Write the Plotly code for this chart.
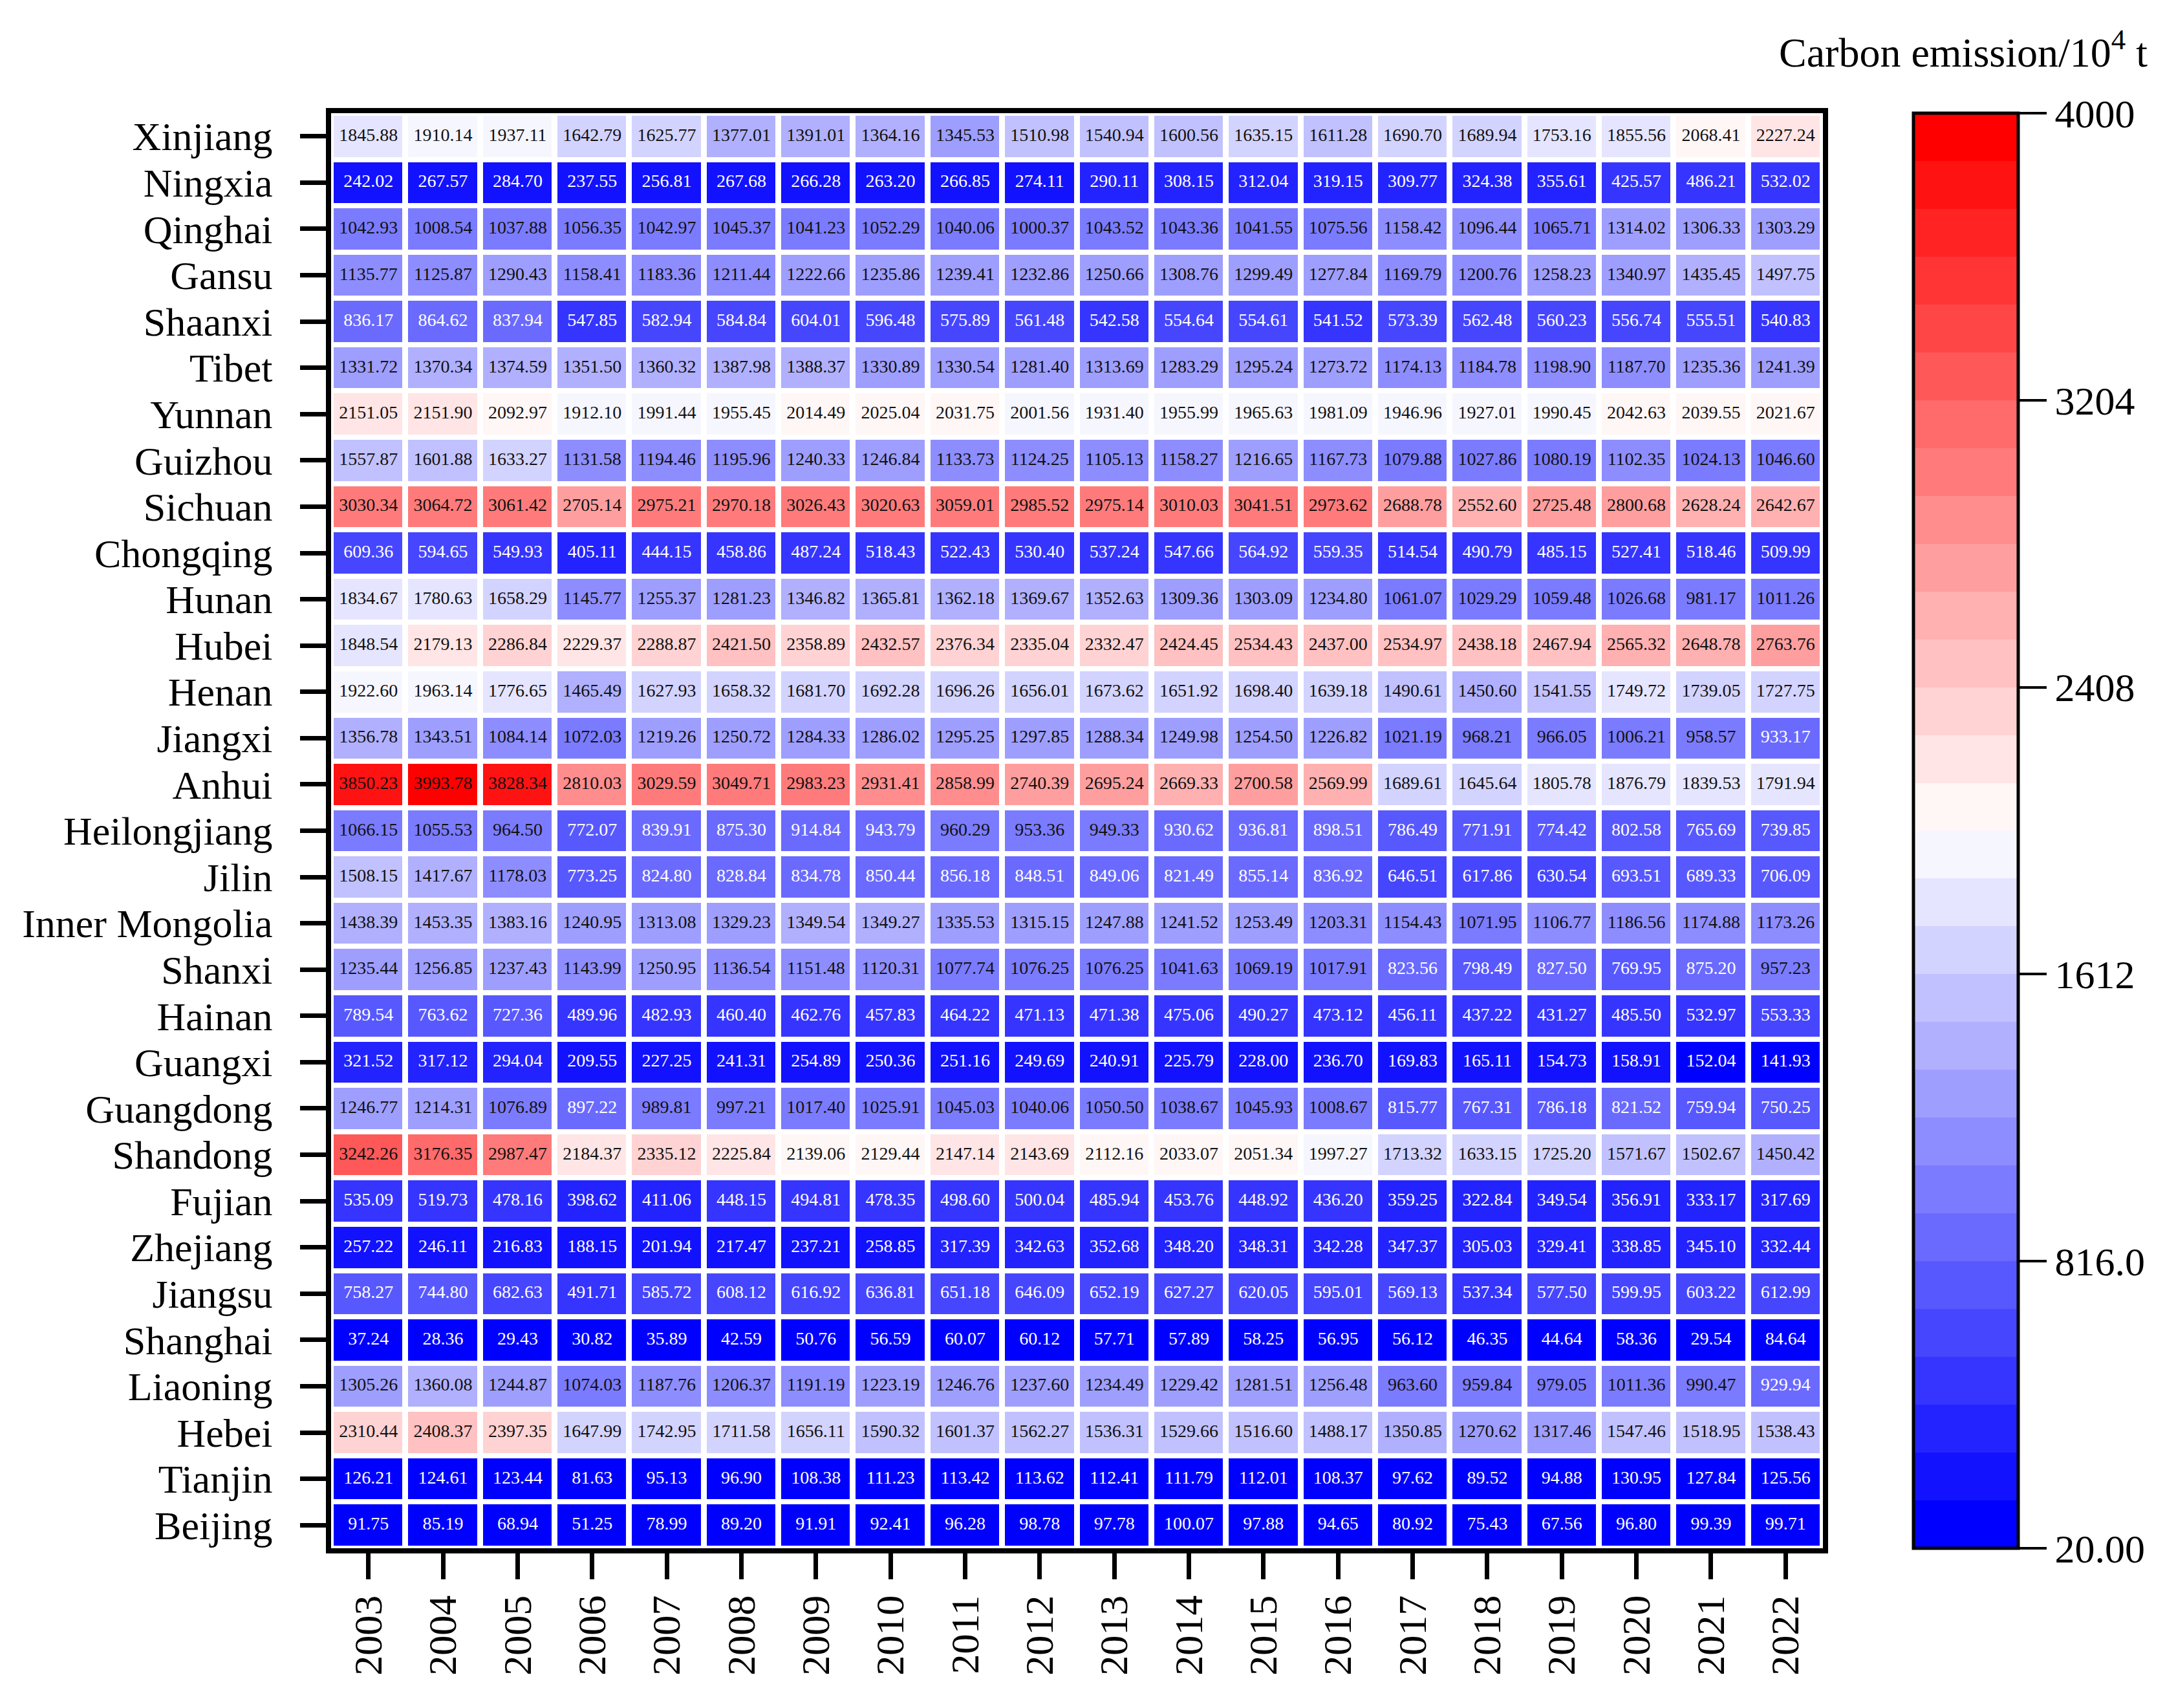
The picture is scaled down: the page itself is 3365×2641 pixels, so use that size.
import plotly.graph_objects as go

# 年份 (x 轴) 与 省份 (y 轴, 从上到下)
years = [str(y) for y in range(2003, 2023)]
provinces = ['Xinjiang', 'Ningxia', 'Qinghai', 'Gansu', 'Shaanxi', 'Tibet', 'Yunnan', 'Guizhou',
             'Sichuan', 'Chongqing', 'Hunan', 'Hubei', 'Henan', 'Jiangxi', 'Anhui', 'Heilongjiang',
             'Jilin', 'Inner Mongolia', 'Shanxi', 'Hainan', 'Guangxi', 'Guangdong', 'Shandong',
             'Fujian', 'Zhejiang', 'Jiangsu', 'Shanghai', 'Liaoning', 'Hebei', 'Tianjin', 'Beijing']

xinjiang = [1845.88, 1910.14, 1937.11, 1642.79, 1625.77, 1377.01, 1391.01, 1364.16, 1345.53, 1510.98,
            1540.94, 1600.56, 1635.15, 1611.28, 1690.70, 1689.94, 1753.16, 1855.56, 2068.41, 2227.24]
ningxia = [242.02, 267.57, 284.70, 237.55, 256.81, 267.68, 266.28, 263.20, 266.85, 274.11,
           290.11, 308.15, 312.04, 319.15, 309.77, 324.38, 355.61, 425.57, 486.21, 532.02]
qinghai = [1042.93, 1008.54, 1037.88, 1056.35, 1042.97, 1045.37, 1041.23, 1052.29, 1040.06, 1000.37,
           1043.52, 1043.36, 1041.55, 1075.56, 1158.42, 1096.44, 1065.71, 1314.02, 1306.33, 1303.29]
gansu = [1135.77, 1125.87, 1290.43, 1158.41, 1183.36, 1211.44, 1222.66, 1235.86, 1239.41, 1232.86,
         1250.66, 1308.76, 1299.49, 1277.84, 1169.79, 1200.76, 1258.23, 1340.97, 1435.45, 1497.75]
shaanxi = [836.17, 864.62, 837.94, 547.85, 582.94, 584.84, 604.01, 596.48, 575.89, 561.48,
           542.58, 554.64, 554.61, 541.52, 573.39, 562.48, 560.23, 556.74, 555.51, 540.83]
tibet = [1331.72, 1370.34, 1374.59, 1351.50, 1360.32, 1387.98, 1388.37, 1330.89, 1330.54, 1281.40,
         1313.69, 1283.29, 1295.24, 1273.72, 1174.13, 1184.78, 1198.90, 1187.70, 1235.36, 1241.39]
yunnan = [2151.05, 2151.90, 2092.97, 1912.10, 1991.44, 1955.45, 2014.49, 2025.04, 2031.75, 2001.56,
          1931.40, 1955.99, 1965.63, 1981.09, 1946.96, 1927.01, 1990.45, 2042.63, 2039.55, 2021.67]
guizhou = [1557.87, 1601.88, 1633.27, 1131.58, 1194.46, 1195.96, 1240.33, 1246.84, 1133.73, 1124.25,
           1105.13, 1158.27, 1216.65, 1167.73, 1079.88, 1027.86, 1080.19, 1102.35, 1024.13, 1046.60]
sichuan = [3030.34, 3064.72, 3061.42, 2705.14, 2975.21, 2970.18, 3026.43, 3020.63, 3059.01, 2985.52,
           2975.14, 3010.03, 3041.51, 2973.62, 2688.78, 2552.60, 2725.48, 2800.68, 2628.24, 2642.67]
chongqing = [609.36, 594.65, 549.93, 405.11, 444.15, 458.86, 487.24, 518.43, 522.43, 530.40,
             537.24, 547.66, 564.92, 559.35, 514.54, 490.79, 485.15, 527.41, 518.46, 509.99]
hunan = [1834.67, 1780.63, 1658.29, 1145.77, 1255.37, 1281.23, 1346.82, 1365.81, 1362.18, 1369.67,
         1352.63, 1309.36, 1303.09, 1234.80, 1061.07, 1029.29, 1059.48, 1026.68, 981.17, 1011.26]
hubei = [1848.54, 2179.13, 2286.84, 2229.37, 2288.87, 2421.50, 2358.89, 2432.57, 2376.34, 2335.04,
         2332.47, 2424.45, 2534.43, 2437.00, 2534.97, 2438.18, 2467.94, 2565.32, 2648.78, 2763.76]
henan = [1922.60, 1963.14, 1776.65, 1465.49, 1627.93, 1658.32, 1681.70, 1692.28, 1696.26, 1656.01,
         1673.62, 1651.92, 1698.40, 1639.18, 1490.61, 1450.60, 1541.55, 1749.72, 1739.05, 1727.75]
jiangxi = [1356.78, 1343.51, 1084.14, 1072.03, 1219.26, 1250.72, 1284.33, 1286.02, 1295.25, 1297.85,
           1288.34, 1249.98, 1254.50, 1226.82, 1021.19, 968.21, 966.05, 1006.21, 958.57, 933.17]
anhui = [3850.23, 3993.78, 3828.34, 2810.03, 3029.59, 3049.71, 2983.23, 2931.41, 2858.99, 2740.39,
         2695.24, 2669.33, 2700.58, 2569.99, 1689.61, 1645.64, 1805.78, 1876.79, 1839.53, 1791.94]
heilongjiang = [1066.15, 1055.53, 964.50, 772.07, 839.91, 875.30, 914.84, 943.79, 960.29, 953.36,
                949.33, 930.62, 936.81, 898.51, 786.49, 771.91, 774.42, 802.58, 765.69, 739.85]
jilin = [1508.15, 1417.67, 1178.03, 773.25, 824.80, 828.84, 834.78, 850.44, 856.18, 848.51,
         849.06, 821.49, 855.14, 836.92, 646.51, 617.86, 630.54, 693.51, 689.33, 706.09]
inner_mongolia = [1438.39, 1453.35, 1383.16, 1240.95, 1313.08, 1329.23, 1349.54, 1349.27, 1335.53, 1315.15,
                  1247.88, 1241.52, 1253.49, 1203.31, 1154.43, 1071.95, 1106.77, 1186.56, 1174.88, 1173.26]
shanxi = [1235.44, 1256.85, 1237.43, 1143.99, 1250.95, 1136.54, 1151.48, 1120.31, 1077.74, 1076.25,
          1076.25, 1041.63, 1069.19, 1017.91, 823.56, 798.49, 827.50, 769.95, 875.20, 957.23]
hainan = [789.54, 763.62, 727.36, 489.96, 482.93, 460.40, 462.76, 457.83, 464.22, 471.13,
          471.38, 475.06, 490.27, 473.12, 456.11, 437.22, 431.27, 485.50, 532.97, 553.33]
guangxi = [321.52, 317.12, 294.04, 209.55, 227.25, 241.31, 254.89, 250.36, 251.16, 249.69,
           240.91, 225.79, 228.00, 236.70, 169.83, 165.11, 154.73, 158.91, 152.04, 141.93]
guangdong = [1246.77, 1214.31, 1076.89, 897.22, 989.81, 997.21, 1017.40, 1025.91, 1045.03, 1040.06,
             1050.50, 1038.67, 1045.93, 1008.67, 815.77, 767.31, 786.18, 821.52, 759.94, 750.25]
shandong = [3242.26, 3176.35, 2987.47, 2184.37, 2335.12, 2225.84, 2139.06, 2129.44, 2147.14, 2143.69,
            2112.16, 2033.07, 2051.34, 1997.27, 1713.32, 1633.15, 1725.20, 1571.67, 1502.67, 1450.42]
fujian = [535.09, 519.73, 478.16, 398.62, 411.06, 448.15, 494.81, 478.35, 498.60, 500.04,
          485.94, 453.76, 448.92, 436.20, 359.25, 322.84, 349.54, 356.91, 333.17, 317.69]
zhejiang = [257.22, 246.11, 216.83, 188.15, 201.94, 217.47, 237.21, 258.85, 317.39, 342.63,
            352.68, 348.20, 348.31, 342.28, 347.37, 305.03, 329.41, 338.85, 345.10, 332.44]
jiangsu = [758.27, 744.80, 682.63, 491.71, 585.72, 608.12, 616.92, 636.81, 651.18, 646.09,
           652.19, 627.27, 620.05, 595.01, 569.13, 537.34, 577.50, 599.95, 603.22, 612.99]
shanghai = [37.24, 28.36, 29.43, 30.82, 35.89, 42.59, 50.76, 56.59, 60.07, 60.12,
            57.71, 57.89, 58.25, 56.95, 56.12, 46.35, 44.64, 58.36, 29.54, 84.64]
liaoning = [1305.26, 1360.08, 1244.87, 1074.03, 1187.76, 1206.37, 1191.19, 1223.19, 1246.76, 1237.60,
            1234.49, 1229.42, 1281.51, 1256.48, 963.60, 959.84, 979.05, 1011.36, 990.47, 929.94]
hebei = [2310.44, 2408.37, 2397.35, 1647.99, 1742.95, 1711.58, 1656.11, 1590.32, 1601.37, 1562.27,
         1536.31, 1529.66, 1516.60, 1488.17, 1350.85, 1270.62, 1317.46, 1547.46, 1518.95, 1538.43]
tianjin = [126.21, 124.61, 123.44, 81.63, 95.13, 96.90, 108.38, 111.23, 113.42, 113.62,
           112.41, 111.79, 112.01, 108.37, 97.62, 89.52, 94.88, 130.95, 127.84, 125.56]
beijing = [91.75, 85.19, 68.94, 51.25, 78.99, 89.20, 91.91, 92.41, 96.28, 98.78,
           97.78, 100.07, 97.88, 94.65, 80.92, 75.43, 67.56, 96.80, 99.39, 99.71]

rows = [xinjiang, ningxia, qinghai, gansu, shaanxi, tibet, yunnan, guizhou, sichuan, chongqing,
        hunan, hubei, henan, jiangxi, anhui, heilongjiang, jilin, inner_mongolia, shanxi, hainan,
        guangxi, guangdong, shandong, fujian, zhejiang, jiangsu, shanghai, liaoning, hebei,
        tianjin, beijing]

cb_tickvals = [20, 816, 1612, 2408, 3204, 4000]
cb_ticktext = ['20.00', '816.0', '1612', '2408', '3204', '4000']

zmin, zmax, n_levels = 20, 4000, 30
FONT = 'Liberation Serif'

# 蓝-白-红 分段色标 (30 级)
colorscale = []
for k in range(n_levels):
    t = k / (n_levels - 1)
    if t < 0.5:
        v = round(2 * t * 255)
        c = f'rgb({v},{v},255)'
    else:
        v = round(2 * (1 - t) * 255)
        c = f'rgb(255,{v},{v})'
    colorscale.append([k / n_levels, c])
    colorscale.append([(k + 1) / n_levels, c])

step = (zmax - zmin) / n_levels

# 单元格文字: 深色格子用白字
tx, ty, tt, tc = [], [], [], []
for p, row in zip(provinces, rows):
    for y, v in zip(years, row):
        tx.append(y)
        ty.append(p)
        tt.append(f'{v:.2f}')
        tc.append('white' if int((v - zmin) // step) <= 6 else '#111111')

fig = go.Figure()
fig.add_trace(go.Heatmap(
    x=years, y=provinces, z=rows,
    zmin=zmin, zmax=zmax, colorscale=colorscale,
    xgap=9, ygap=8, hoverongaps=False,
    colorbar=dict(
        x=(2951 - 504) / 2307, xanchor='left', xpad=0,
        y=0.5, yanchor='middle', len=1, lenmode='fraction', ypad=0,
        thickness=162, thicknessmode='pixels',
        outlinewidth=5, outlinecolor='black',
        tickmode='array', tickvals=cb_tickvals, ticktext=cb_ticktext,
        ticks='outside', ticklen=42, tickwidth=4, tickcolor='black',
        tickfont=dict(family=FONT, size=62, color='black'),
    ),
))
fig.add_trace(go.Scatter(
    x=tx, y=ty, text=tt, mode='text', hoverinfo='skip', showlegend=False,
    textfont=dict(family=FONT, size=28, color=tc),
))

fig.add_annotation(
    text='Carbon emission/10<sup>4</sup> t', xref='paper', yref='paper',
    x=(3315 - 504) / 2307, y=(2386 - 68) / 2219, xanchor='right', yanchor='middle',
    showarrow=False, font=dict(family=FONT, size=64, color='black'),
)

axis_common = dict(
    type='category', showgrid=False, zeroline=False,
    showline=True, linewidth=8, linecolor='black', mirror=True,
    ticks='outside', ticklen=40, tickwidth=7, tickcolor='black',
    tickmode='array',
)
fig.update_xaxes(**axis_common, tickangle=-90, tickvals=years, ticktext=years,
                 range=[-0.5, len(years) - 0.5], ticklabelstandoff=0,
                 tickfont=dict(family=FONT, size=62, color='black'))
fig.update_yaxes(**axis_common, tickvals=provinces, ticktext=provinces,
                 range=[len(provinces) - 0.5, -0.5], ticklabelstandoff=30,
                 tickfont=dict(family=FONT, size=62, color='black'))

fig.update_layout(
    width=3365, height=2641, autosize=False,
    margin=dict(l=504, r=554, t=167, b=255),
    paper_bgcolor='white', plot_bgcolor='white',
    font=dict(family=FONT, color='black'),
)

fig.write_html('out.html')
